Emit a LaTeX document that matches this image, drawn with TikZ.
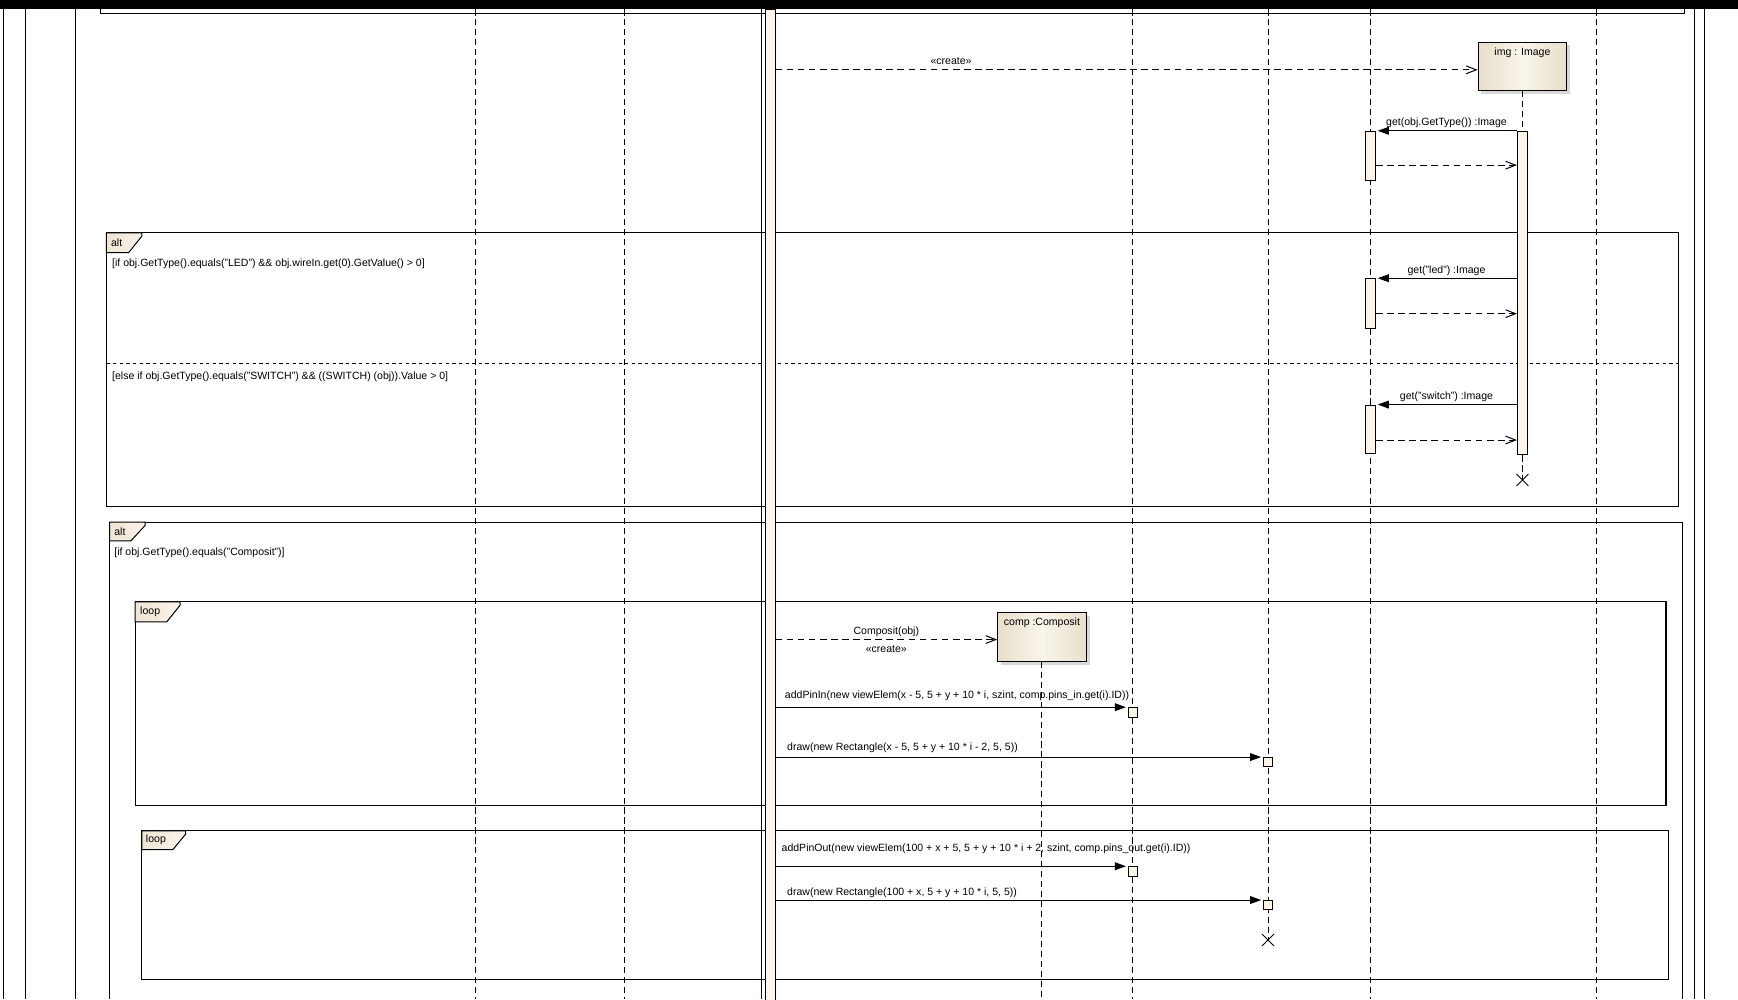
\documentclass[tikz,border=0pt]{standalone}
\usepackage{fontspec}
\setmainfont{Liberation Sans}
\usepackage{xcolor}
\usetikzlibrary{shapes,arrows.meta,positioning,shadows,calc}

\definecolor{objbord}{RGB}{232,222,202}
\definecolor{objmilieu}{RGB}{249,245,236}
\definecolor{actfond}{RGB}{252,243,233}
\definecolor{tagfond}{RGB}{238,229,213}

\tikzset{
  lbl/.style={font=\fontsize{9.5}{11}\selectfont, inner sep=2pt, text height=7pt, text depth=2pt},
  ligne/.style={line width=0.9pt},
  vie/.style={line width=0.9pt, dash pattern=on 5.5pt off 3.5pt},
  appel/.style={line width=0.9pt, -{Triangle[length=10pt,width=7pt]}, shorten >=1.5pt},
  retour/.style={line width=0.9pt, dash pattern=on 6pt off 4pt, -{Straight Barb[length=9pt,width=7pt]}},
  objet/.style={draw, line width=0.9pt, left color=objbord, right color=objbord, middle color=objmilieu,
    minimum width=80pt, minimum height=44pt, inner sep=0pt,
    drop shadow={shadow xshift=3pt, shadow yshift=-3pt, fill=black!30}},
  activ/.style={draw, line width=0.9pt, fill=actfond, minimum width=9pt, inner sep=0pt, anchor=north},
  carre/.style={draw, line width=0.9pt, fill=actfond, minimum size=8.5pt, inner sep=0pt, anchor=north},
  fin/.style={cross out, draw, line width=0.8pt, minimum size=10pt, inner sep=0pt},
  cadre/.style={line width=1pt},
  onglet/.style={draw, line width=0.9pt, left color=tagfond, right color=actfond},
}

\begin{document}
\begin{tikzpicture}[x=1pt, y=-1pt]
    \useasboundingbox (0,0) rectangle (1568,901.3);

    % Bandeau et bords de page
    \fill[black] (0,0) rectangle (1568,8.5);
    \foreach \x in {3,23,68.5,1529,1538}
        \draw[ligne] (\x,8.5) -- (\x,901.3);
    \draw[cadre] (91,8.5) -- (91,12) -- (1520,12) -- (1520,8.5);

    % Fragment alt (LED / SWITCH)
    \draw[cadre] (96,210) rectangle (1514,457);
    \draw[onglet] (96,210) -- (128,210) -- (128,213) -- (116,228) -- (96,228) -- cycle;
    \node[lbl, anchor=base west] (altA) at (98,222) {alt};
    \node[lbl, anchor=base west] (gardeA) at (99,240.5) {[if obj.GetType().equals("LED") \&\& obj.wireIn.get(0).GetValue() > 0]};
    \draw[ligne, dash pattern=on 3pt off 3pt] (96,328) -- (1514,328);
    \node[lbl, anchor=base west] (gardeB) at (99,342.5) {[else if obj.GetType().equals("SWITCH") \&\& ((SWITCH) (obj)).Value > 0]};

    % Fragment alt (Composit)
    \draw[cadre] (99,901.3) -- (99,471) -- (1518,471) -- (1518,901.3);
    \draw[onglet] (99,471) -- (131,471) -- (131,474) -- (118,488) -- (99,488) -- cycle;
    \node[lbl, anchor=base west] (altB) at (101,483.5) {alt};
    \node[lbl, anchor=base west] (gardeC) at (101,501.5) {[if obj.GetType().equals("Composit")]};

    % Boucles
    \draw[cadre] (122,543) rectangle (1503,727);
    \draw[onglet] (122,543) -- (162.5,543) -- (162.5,546) -- (150.5,561) -- (122,561) -- cycle;
    \node[lbl, anchor=base west] (loopA) at (124.3,554.5) {loop};
    \draw[cadre] (128,749.5) rectangle (1505,884);
    \draw[onglet] (128,749.5) -- (167.5,749.5) -- (167.5,752.5) -- (156,766.5) -- (128,766.5) -- cycle;
    \node[lbl, anchor=base west] (loopB) at (129.5,760.5) {loop};

    % Lignes de vie
    \foreach \x in {429,563,1022,1236.5,1440.5}
        \draw[vie] (\x,8.5) -- (\x,901.3);
    \node[fin] (rectFin) at (1144,848) {};
    \draw[vie] (1144,8.5) -- (rectFin.center);
    \draw[ligne] (687,8.5) -- (687,901.3);
    \node[activ, minimum width=8.5pt, minimum height=900pt] (ctrl) at (695,8.5) {};

    % Objet img
    \node[objet] (img) at (1373.5,60) {};
    \node[lbl, anchor=base] (imgNom) at ([yshift=-12.5pt]img.north) {img : Image};
    \node[activ, minimum height=292pt] (imgAct) at (1373.5,118) {};
    \node[fin] (imgFin) at (1373.5,433) {};
    \draw[vie] (img.south) -- (imgAct.north);
    \draw[vie] (imgAct.south) -- (imgFin.center);
    \coordinate (imgIn) at ($(img.west)+(0,3)$);
    \draw[retour] (ctrl.east |- imgIn) -- (imgIn) node[lbl, pos=0.25, above] (creerImg) {«create»};

    % Appels get
    \node[activ, minimum height=44pt] (actA) at (1236.5,118) {};
    \node[activ, minimum height=45pt] (actB) at (1236.5,251) {};
    \node[activ, minimum height=44pt] (actC) at (1236.5,365) {};
    \draw[appel] (imgAct.west |- actA.north) -- (actA.north east) node[lbl, midway, above] (getType) {get(obj.GetType()) :Image};
    \draw[appel] (imgAct.west |- actB.north) -- (actB.north east) node[lbl, midway, above] (getLed) {get("led") :Image};
    \draw[appel] (imgAct.west |- actC.north) -- (actC.north east) node[lbl, midway, above] (getSwitch) {get("switch") :Image};
    \coordinate (retA) at ($(actA.north east)+(0,31)$);
    \coordinate (retB) at ($(actB.north east)+(0,32)$);
    \coordinate (retC) at ($(actC.north east)+(0,32)$);
    \draw[retour] (retA) -- (retA -| imgAct.west);
    \draw[retour] (retB) -- (retB -| imgAct.west);
    \draw[retour] (retC) -- (retC -| imgAct.west);

    % Objet comp
    \node[objet] (comp) at (940,574.5) {};
    \node[lbl, anchor=base] (compNom) at ([yshift=-12.5pt]comp.north) {comp :Composit};
    \coordinate (compBas) at (940,901.3);
    \draw[vie] (comp.south) -- (compBas);
    \coordinate (compIn) at ($(comp.west)+(0,2.5)$);
    \draw[retour] (ctrl.east |- compIn) -- (compIn)
        node[lbl, midway, above] (lComp) {Composit(obj)}
        node[lbl, midway, below, yshift=-2pt] (creerComp) {«create»};

    % Pins et rectangles
    \node[carre] (pinIn) at (1022,638) {};
    \node[carre] (rectIn) at (1144,683) {};
    \node[carre] (pinOut) at (1022,781.5) {};
    \node[carre] (rectOut) at (1144,812) {};
    \draw[appel] (ctrl.east |- pinIn.north west) -- (pinIn.north west);
    \draw[appel] (ctrl.east |- rectIn.north west) -- (rectIn.north west);
    \draw[appel] (ctrl.east |- pinOut.north west) -- (pinOut.north west);
    \draw[appel] (ctrl.east |- rectOut.north west) -- (rectOut.north west);
    \node[lbl, anchor=base west] (lPinIn) at (706,630.5) {addPinIn(new viewElem(x - 5, 5 + y + 10 * i, szint, comp.pins\_in.get(i).ID))};
    \node[lbl, anchor=base west] (lRectIn) at (708,677) {draw(new Rectangle(x - 5, 5 + y + 10 * i - 2, 5, 5))};
    \node[lbl, anchor=base west] (lPinOut) at (703,768) {addPinOut(new viewElem(100 + x + 5, 5 + y + 10 * i + 2, szint, comp.pins\_out.get(i).ID))};
    \node[lbl, anchor=base west] (lRectOut) at (708,807.5) {draw(new Rectangle(100 + x, 5 + y + 10 * i, 5, 5))};

\end{tikzpicture}
\end{document}
